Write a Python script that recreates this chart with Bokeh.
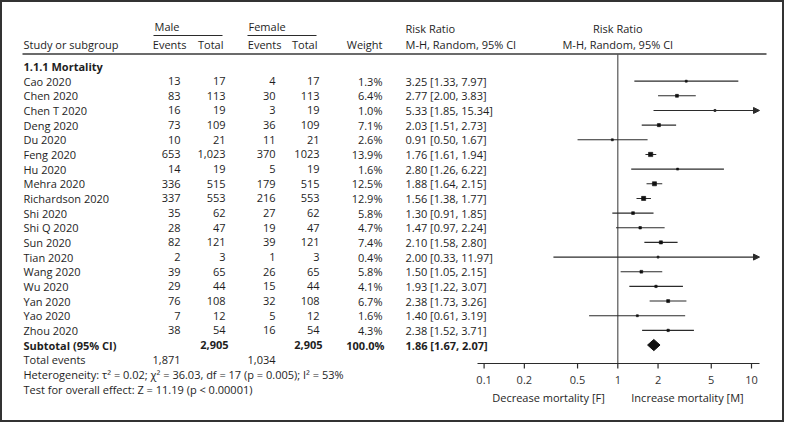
import math
from bokeh.plotting import figure
from bokeh.models import ColumnDataSource, Range1d, LogScale, Arrow, NormalHead
from bokeh.core.properties import value
from bokeh.embed import file_html
from bokeh.resources import INLINE

# ---------------- data ----------------
studies = ["Cao 2020", "Chen 2020", "Chen T 2020", "Deng 2020", "Du 2020", "Feng 2020",
           "Hu 2020", "Mehra 2020", "Richardson 2020", "Shi 2020", "Shi Q 2020", "Sun 2020",
           "Tian 2020", "Wang 2020", "Wu 2020", "Yan 2020", "Yao 2020", "Zhou 2020"]
male_events = [13, 83, 16, 73, 10, 653, 14, 336, 337, 35, 28, 82, 2, 39, 29, 76, 7, 38]
male_total = [17, 113, 19, 109, 21, 1023, 19, 515, 553, 62, 47, 121, 3, 65, 44, 108, 12, 54]
female_events = [4, 30, 3, 36, 11, 370, 5, 179, 216, 27, 19, 39, 1, 26, 15, 32, 5, 16]
female_total = [17, 113, 19, 109, 21, 1023, 19, 515, 553, 62, 47, 121, 3, 65, 44, 108, 12, 54]
weight = [1.3, 6.4, 1.0, 7.1, 2.6, 13.9, 1.6, 12.5, 12.9, 5.8, 4.7, 7.4, 0.4, 5.8, 4.1, 6.7, 1.6, 4.3]
rr = [3.25, 2.77, 5.33, 2.03, 0.91, 1.76, 2.80, 1.88, 1.56, 1.30, 1.47, 2.10, 2.00, 1.50, 1.93, 2.38, 1.40, 2.38]
rr_lo = [1.33, 2.00, 1.85, 1.51, 0.50, 1.61, 1.26, 1.64, 1.38, 0.91, 0.97, 1.58, 0.33, 1.05, 1.22, 1.73, 0.61, 1.52]
rr_hi = [7.97, 3.83, 15.34, 2.73, 1.67, 1.94, 6.22, 2.15, 1.77, 1.85, 2.24, 2.80, 11.97, 2.15, 3.07, 3.26, 3.19, 3.71]

sub_rr, sub_lo, sub_hi = 1.86, 1.67, 2.07
sub_male_total, sub_female_total = 2905, 2905
tot_male_events, tot_female_events = 1871, 1034
sub_weight = 100.0

tick_values = [0.1, 0.2, 0.5, 1, 2, 5, 10]
tick_labels = ["0.1", "0.2", "0.5", "1", "2", "5", "10"]

group_label = "1.1.1 Mortality"
het_text = "Heterogeneity: \u03c4\u00b2 = 0.02; \u03c7\u00b2 = 36.03, df = 17 (p = 0.005); I\u00b2 = 53%"
test_text = "Test for overall effect: Z = 11.19 (p < 0.00001)"
favours_left = "Decrease mortality [F]"
favours_right = "Increase mortality [M]"

# ---------------- layout constants ----------------
FONT = "Open Sans"
FS = "11px"
TXT = "#1e1e1e"
LINE = "#2b2b2b"

BORDER = 2
W, H = 788 - 2 * BORDER, 426 - 2 * BORDER
OFF = BORDER
ROW0_Y, ROW_H = 66.0, 14.66  # reference pixel y of first row, row pitch
AXIS_Y = 363.0


def ky(ref_y):
    return (ref_y - ROW0_Y) / ROW_H


y_top, y_bot = ky(OFF), ky(OFF + H)

X_ONE, DEC = 617.3, 133.7   # reference pixel of RR = 1, pixels per decade
rr_start = 10 ** ((OFF - X_ONE) / DEC)
rr_end = 10 ** ((OFF + W - X_ONE) / DEC)
AX_LO = 10 ** ((477 - X_ONE) / DEC)
AX_HI = 10 ** ((759 - X_ONE) / DEC)

p = figure(width=W, height=H, x_range=Range1d(OFF, OFF + W), y_range=Range1d(y_bot, y_top),
           x_axis_type=None, y_axis_type=None, output_backend="svg", toolbar_location=None,
           min_border=0, outline_line_color=None)
p.styles = {"border": f"{BORDER}px solid #333333"}
p.extra_x_ranges = {"rr": Range1d(rr_start, rr_end)}
p.extra_x_scales = {"rr": LogScale()}

n = len(studies)
rows = [i + 1 for i in range(n)]
src = ColumnDataSource(dict(
    k=rows,
    study=studies,
    me=[f"{v:,}" for v in male_events],
    mt=[f"{v:,}" for v in male_total],
    fe=[f"{v}" for v in female_events],
    ft=[f"{v}" for v in female_total],
    w=[f"{v:.1f}%" for v in weight],
    rrtxt=[f"{a:.2f} [{b:.2f}, {c:.2f}]" for a, b, c in zip(rr, rr_lo, rr_hi)],
))

tkw = dict(text_font=value(FONT), text_font_size=FS, text_color=TXT, text_baseline="middle")
bkw = dict(tkw, text_font_style="bold")

p.text(x=23, y="k", text="study", source=src, text_align="left", **tkw)
p.text(x=180, y="k", text="me", source=src, text_align="right", **tkw)
p.text(x=225, y="k", text="mt", source=src, text_align="right", **tkw)
p.text(x=275, y="k", text="fe", source=src, text_align="right", **tkw)
p.text(x=319, y="k", text="ft", source=src, text_align="right", **tkw)
p.text(x=382, y="k", text="w", source=src, text_align="right", **tkw)
p.text(x=405, y="k", text="rrtxt", source=src, text_align="left", **tkw)

# group heading
p.text(x=[23], y=[0], text=[group_label], text_align="left", **bkw)

# subtotal row
k_sub = n + 1
p.text(x=[23], y=[k_sub], text=["Subtotal (95% CI)"], text_align="left", **bkw)
p.text(x=[228], y=[k_sub], text=[f"{sub_male_total:,}"], text_align="right", **bkw)
p.text(x=[322], y=[k_sub], text=[f"{sub_female_total:,}"], text_align="right", **bkw)
p.text(x=[384], y=[k_sub], text=[f"{sub_weight:.1f}%"], text_align="right", **bkw)
p.text(x=[405], y=[k_sub], text=[f"{sub_rr:.2f} [{sub_lo:.2f}, {sub_hi:.2f}]"],
       text_align="left", **bkw)

# footer rows
k_tot = n + 2
p.text(x=[23], y=[k_tot], text=["Total events"], text_align="left", **tkw)
p.text(x=[180, 275], y=[k_tot, k_tot],
       text=[f"{tot_male_events:,}", f"{tot_female_events:,}"], text_align="right", **tkw)
p.text(x=[23, 23], y=[k_tot + 1, k_tot + 2], text=[het_text, test_text],
       text_align="left", **tkw)

# header
p.text(x=[154], y=[ky(26)], text=["Male"], text_align="left", **tkw)
p.text(x=[248], y=[ky(26)], text=["Female"], text_align="left", **tkw)
p.segment(x0=[153, 247], x1=[222, 316], y0=[ky(35)] * 2, y1=[ky(35)] * 2,
          line_color=LINE, line_width=1.2)
p.text(x=[23], y=[ky(44)], text=["Study or subgroup"], text_align="left", **tkw)
p.text(x=[186, 223, 281, 317, 382], y=[ky(44)] * 5,
       text=["Events", "Total", "Events", "Total", "Weight"], text_align="right", **tkw)
p.text(x=[405, 405], y=[ky(28), ky(44)], text=["Risk Ratio", "M-H, Random, 95% CI"],
       text_align="left", **tkw)
p.text(x=[1, 1], y=[ky(28), ky(44)], text=["Risk Ratio", "M-H, Random, 95% CI"],
       x_range_name="rr", text_align="center", **tkw)
p.segment(x0=[22], x1=[766], y0=[ky(53.5)], y1=[ky(53.5)], line_color="#3a3a3a", line_width=1.6)

# null-effect line
p.segment(x0=[1], x1=[1], y0=[ky(53.5)], y1=[ky(AXIS_Y)], x_range_name="rr",
          line_color="#555555", line_width=1.2)

# CI lines
seg_i = [i for i in range(n) if rr_hi[i] <= AX_HI]
arr_i = [i for i in range(n) if rr_hi[i] > AX_HI]
p.segment(x0=[rr_lo[i] for i in seg_i], x1=[rr_hi[i] for i in seg_i],
          y0=[rows[i] for i in seg_i], y1=[rows[i] for i in seg_i],
          x_range_name="rr", line_color=LINE, line_width=1.1)
arr_src = ColumnDataSource(dict(xs=[rr_lo[i] for i in arr_i], xe=[AX_HI] * len(arr_i),
                                k=[rows[i] for i in arr_i]))
p.add_layout(Arrow(x_start="xs", y_start="k", x_end="xe", y_end="k", source=arr_src,
                   x_range_name="rr", line_color=LINE, line_width=1.1,
                   end=NormalHead(size=6, fill_color=LINE, line_color=LINE)))

# squares sized by weight
p.scatter(x=rr, y=rows, size=[max(2.0, 1.15 * math.sqrt(w)) for w in weight],
          marker="square", x_range_name="rr", fill_color="#111111", line_color="#111111",
          line_width=0.6)

# diamond
dh = 5.6 / ROW_H
p.patch(x=[sub_lo, sub_rr, sub_hi, sub_rr], y=[k_sub, k_sub - dh, k_sub, k_sub + dh],
        x_range_name="rr", fill_color="#111111", line_color="#111111")

# log axis (drawn on the risk-ratio log scale)
ya = ky(AXIS_Y)
p.segment(x0=[AX_LO], x1=[AX_HI], y0=[ya], y1=[ya], x_range_name="rr",
          line_color=LINE, line_width=1.2)
p.segment(x0=tick_values, x1=tick_values, y0=[ya] * len(tick_values),
          y1=[ky(AXIS_Y + 5)] * len(tick_values), x_range_name="rr",
          line_color=LINE, line_width=1.2)
p.text(x=tick_values, y=[ky(379)] * len(tick_values), text=tick_labels, x_range_name="rr",
       text_align="center", **dict(tkw, text_color="#333333"))
p.text(x=[548, 687], y=[ky(397)] * 2, text=[favours_left, favours_right],
       text_align="center", **tkw)

open("out.html", "w").write(file_html(p, INLINE))
